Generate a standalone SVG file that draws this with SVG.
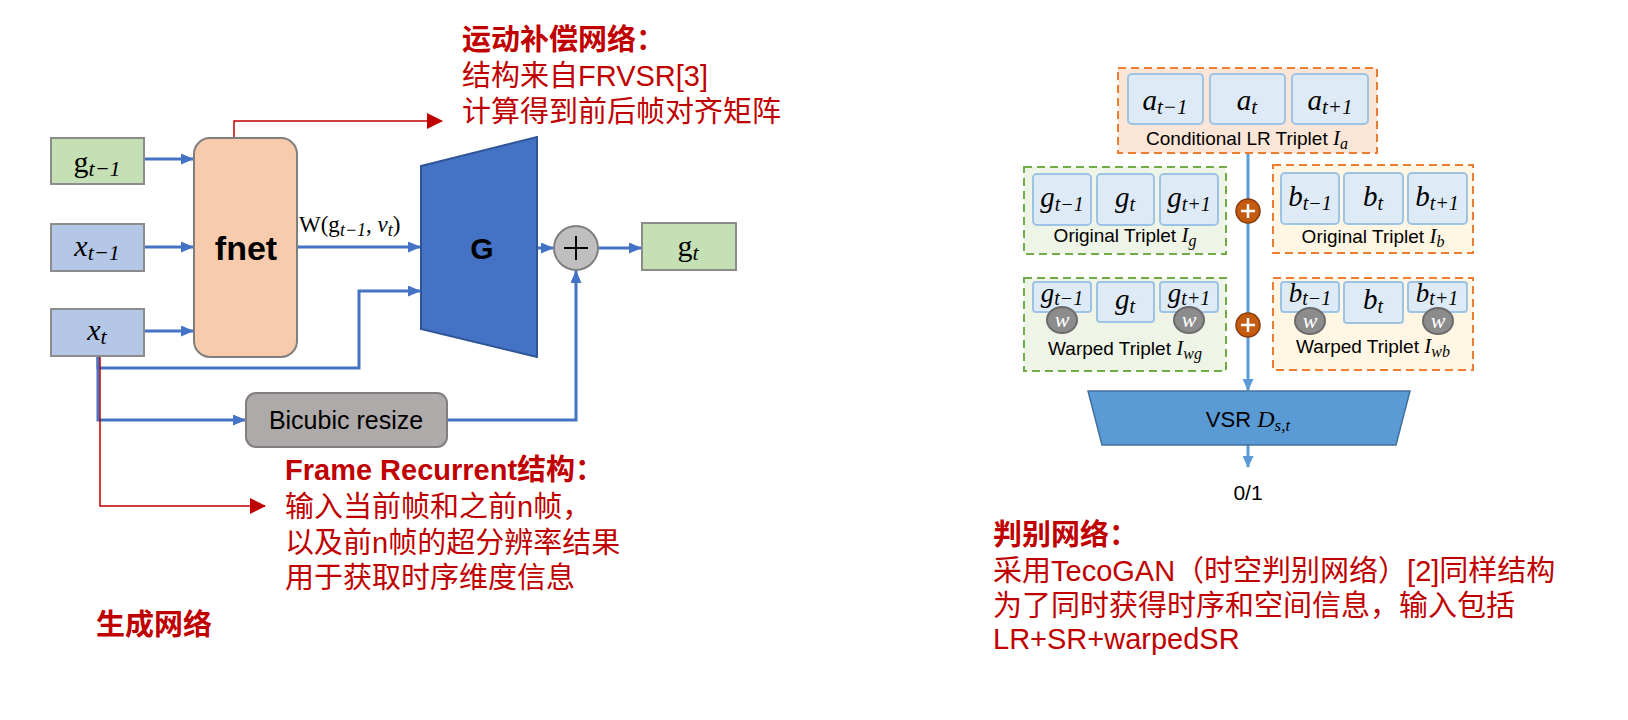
<svg xmlns="http://www.w3.org/2000/svg" width="1628" height="720" viewBox="0 0 1628 720">
<style>
.box{stroke:#8c8c8c;stroke-width:2}
.g{fill:#c5e0b4}
.x{fill:#b4c7e7}
.conn{fill:none;stroke:#4472c4;stroke-width:3}
.red{fill:none;stroke:#c00000;stroke-width:1.5}
.rconn{fill:none;stroke:#5b9bd5;stroke-width:3}
.math{font-family:"Liberation Serif","DejaVu Serif",serif;fill:#000}
.it{font-style:italic}
.sans{font-family:"Liberation Sans",Arial,sans-serif;fill:#000}
.cn{font-family:"Liberation Sans","Noto Sans CJK SC",sans-serif;fill:#c00000;font-size:29px}
.cnb{font-weight:700}
.inner{fill:#deebf7;stroke:#9dc3e6;stroke-width:2}
.dash-o{stroke:#ed7d31;stroke-width:2;stroke-dasharray:8 5}
.dash-g{stroke:#70ad47;stroke-width:2;stroke-dasharray:8 5}
.lbl{font-family:"Liberation Sans",Arial,sans-serif;font-size:19px;fill:#000}
.wc{fill:#8c8c8c;stroke:#6b6b6b;stroke-width:2}
.wt{font-family:"Liberation Serif",serif;font-style:italic;font-size:22px;fill:#fff}
.op{fill:#c55a11;stroke:#843c0c;stroke-width:1.5}
</style>
<defs>
<marker id="ab" markerUnits="userSpaceOnUse" markerWidth="13" markerHeight="11" refX="12" refY="5.5" orient="auto"><path d="M0,0 L13,5.5 L0,11 Z" fill="#4472c4"/></marker>
<marker id="ar" markerUnits="userSpaceOnUse" markerWidth="16" markerHeight="16" refX="15" refY="8" orient="auto"><path d="M0,0 L16,8 L0,16 Z" fill="#c00000"/></marker>
<marker id="alb" markerUnits="userSpaceOnUse" markerWidth="12" markerHeight="11" refX="11" refY="5.5" orient="auto"><path d="M0,0 L12,5.5 L0,11 Z" fill="#5b9bd5"/></marker>
</defs>

<g id="connectors">
<path class="conn" d="M144,159 H193" marker-end="url(#ab)"/>
<path class="conn" d="M144,247 H193" marker-end="url(#ab)"/>
<path class="conn" d="M144,331 H193" marker-end="url(#ab)"/>
<path class="conn" d="M297,247 H420" marker-end="url(#ab)"/>
<path class="conn" d="M98,356 V368 H359 V291 H420" marker-end="url(#ab)"/>
<path class="conn" d="M98,356 V420 H245" marker-end="url(#ab)"/>
<path class="conn" d="M537,248 H553" marker-end="url(#ab)"/>
<path class="conn" d="M598,248 H641" marker-end="url(#ab)"/>
<path class="conn" d="M447,420 H576 V271" marker-end="url(#ab)"/>
<path class="red" d="M234,138 V121 H442" marker-end="url(#ar)"/>
<path class="red" d="M100,356 V506 H265" marker-end="url(#ar)"/>
<path class="rconn" d="M1248,153 V390" marker-end="url(#alb)"/>
<path class="rconn" d="M1248,445 V467" marker-end="url(#alb)"/>
</g>

<g id="g_prev">
<rect class="box g" x="51" y="138" width="93" height="46"/>
<text class="math" x="97" y="172" text-anchor="middle" font-size="30">g<tspan class="it" font-size="22" dy="4">t−1</tspan></text>
</g>
<g id="x_prev">
<rect class="box x" x="51" y="224" width="93" height="47"/>
<text class="math" x="97" y="256" text-anchor="middle" font-size="30"><tspan class="it">x</tspan><tspan class="it" font-size="22" dy="4">t−1</tspan></text>
</g>
<g id="x_t">
<rect class="box x" x="51" y="309" width="93" height="47"/>
<text class="math" x="97" y="340" text-anchor="middle" font-size="30"><tspan class="it">x</tspan><tspan class="it" font-size="22" dy="4">t</tspan></text>
</g>
<g id="fnet">
<rect x="194" y="138" width="103" height="219" rx="16" fill="#f8cbad" stroke="#7f7f7f" stroke-width="2"/>
<text class="sans" x="246" y="260" text-anchor="middle" font-size="34" font-weight="700">fnet</text>
</g>
<g id="w_label">
<text class="math" x="299" y="232" font-size="23">W(g<tspan class="it" font-size="18" dy="4">t−1</tspan><tspan dy="-4">, </tspan><tspan class="it">v</tspan><tspan class="it" font-size="18" dy="4">t</tspan><tspan dy="-4">)</tspan></text>
</g>
<g id="G">
<polygon points="421,166 537,137 537,357 421,329" fill="#4472c4" stroke="#2f5597" stroke-width="2"/>
<text class="sans" x="482" y="259" text-anchor="middle" font-size="30" font-weight="700">G</text>
</g>
<g id="plus">
<circle cx="576" cy="248" r="22" fill="#bfbfbf" stroke="#7f7f7f" stroke-width="2"/>
<path d="M564,248 H588 M576,236 V260" stroke="#000" stroke-width="2"/>
</g>
<g id="g_t">
<rect class="box g" x="642" y="223" width="94" height="47"/>
<text class="math" x="688" y="256" text-anchor="middle" font-size="30">g<tspan class="it" font-size="22" dy="4">t</tspan></text>
</g>
<g id="bicubic">
<rect x="246" y="393" width="201" height="54" rx="10" fill="#aeaaaa" stroke="#7f7f7f" stroke-width="2"/>
<text class="sans" x="346" y="429" text-anchor="middle" font-size="25" fill="#1a1a1a">Bicubic resize</text>
</g>

<g id="note_motion">
<text class="cn cnb" x="462" y="50">运动补偿网络：</text>
<text class="cn" x="462" y="86">结构来自FRVSR[3]</text>
<text class="cn" x="462" y="122">计算得到前后帧对齐矩阵</text>
</g>
<g id="note_recurrent">
<text class="cn cnb" x="285" y="480">Frame Recurrent结构：</text>
<text class="cn" x="285" y="517">输入当前帧和之前n帧，</text>
<text class="cn" x="285" y="553">以及前n帧的超分辨率结果</text>
<text class="cn" x="285" y="588">用于获取时序维度信息</text>
</g>
<g id="note_gen">
<text class="cn cnb" x="96" y="635">生成网络</text>
</g>
<g id="note_disc">
<text class="cn cnb" x="993" y="545">判别网络：</text>
<text class="cn" x="993" y="581">采用TecoGAN（时空判别网络）[2]同样结构</text>
<text class="cn" x="993" y="616">为了同时获得时序和空间信息，输入包括</text>
<text class="cn" x="993" y="649">LR+SR+warpedSR</text>
</g>

<g id="triplet_a">
<rect class="dash-o" x="1118" y="68" width="259" height="85" fill="#fbe5d6"/>
<rect class="inner" x="1128" y="74" width="75" height="50" rx="4"/>
<rect class="inner" x="1210" y="74" width="75" height="50" rx="4"/>
<rect class="inner" x="1292" y="74" width="76" height="50" rx="4"/>
<text class="math it" x="1165" y="110" text-anchor="middle" font-size="29">a<tspan font-size="21" dy="4">t−1</tspan></text>
<text class="math it" x="1247" y="110" text-anchor="middle" font-size="29">a<tspan font-size="21" dy="4">t</tspan></text>
<text class="math it" x="1330" y="110" text-anchor="middle" font-size="29">a<tspan font-size="21" dy="4">t+1</tspan></text>
<text class="lbl" x="1247" y="145" text-anchor="middle">Conditional LR Triplet <tspan class="math it" font-size="21">I</tspan><tspan class="math it" font-size="16" dy="4">a</tspan></text>
</g>
<g id="triplet_g">
<rect class="dash-g" x="1024" y="167" width="202" height="87" fill="#eef4e6"/>
<rect class="inner" x="1033" y="174" width="58" height="51" rx="4"/>
<rect class="inner" x="1097" y="174" width="57" height="51" rx="4"/>
<rect class="inner" x="1160" y="174" width="58" height="51" rx="4"/>
<text class="math it" x="1062" y="207" text-anchor="middle" font-size="29">g<tspan font-size="20" dy="4">t−1</tspan></text>
<text class="math it" x="1125" y="207" text-anchor="middle" font-size="29">g<tspan font-size="20" dy="4">t</tspan></text>
<text class="math it" x="1189" y="207" text-anchor="middle" font-size="29">g<tspan font-size="20" dy="4">t+1</tspan></text>
<text class="lbl" x="1125" y="242" text-anchor="middle">Original Triplet <tspan class="math it" font-size="21">I</tspan><tspan class="math it" font-size="16" dy="4">g</tspan></text>
</g>
<g id="triplet_b">
<rect class="dash-o" x="1273" y="165" width="200" height="88" fill="#fff6e3"/>
<rect class="inner" x="1281" y="173" width="58" height="51" rx="4"/>
<rect class="inner" x="1344" y="173" width="59" height="51" rx="4"/>
<rect class="inner" x="1408" y="173" width="59" height="51" rx="4"/>
<text class="math it" x="1310" y="206" text-anchor="middle" font-size="29">b<tspan font-size="20" dy="4">t−1</tspan></text>
<text class="math it" x="1373" y="206" text-anchor="middle" font-size="29">b<tspan font-size="20" dy="4">t</tspan></text>
<text class="math it" x="1437" y="206" text-anchor="middle" font-size="29">b<tspan font-size="20" dy="4">t+1</tspan></text>
<text class="lbl" x="1373" y="243" text-anchor="middle">Original Triplet <tspan class="math it" font-size="21">I</tspan><tspan class="math it" font-size="16" dy="4">b</tspan></text>
</g>
<g id="triplet_wg">
<rect class="dash-g" x="1024" y="278" width="202" height="93" fill="#eef4e6"/>
<rect class="inner" x="1033" y="282" width="58" height="30" rx="3"/>
<rect class="inner" x="1097" y="282" width="57" height="40" rx="3"/>
<rect class="inner" x="1160" y="282" width="58" height="30" rx="3"/>
<text class="math it" x="1062" y="302" text-anchor="middle" font-size="27">g<tspan font-size="20" dy="3">t−1</tspan></text>
<text class="math it" x="1125" y="309" text-anchor="middle" font-size="29">g<tspan font-size="20" dy="4">t</tspan></text>
<text class="math it" x="1189" y="302" text-anchor="middle" font-size="27">g<tspan font-size="20" dy="3">t+1</tspan></text>
<ellipse class="wc" cx="1062" cy="320" rx="15" ry="13"/>
<text class="wt" x="1062" y="327" text-anchor="middle">w</text>
<ellipse class="wc" cx="1189" cy="320" rx="15" ry="13"/>
<text class="wt" x="1189" y="327" text-anchor="middle">w</text>
<text class="lbl" x="1125" y="355" text-anchor="middle">Warped Triplet <tspan class="math it" font-size="21">I</tspan><tspan class="math it" font-size="16" dy="4">wg</tspan></text>
</g>
<g id="triplet_wb">
<rect class="dash-o" x="1273" y="278" width="200" height="92" fill="#fff6e3"/>
<rect class="inner" x="1281" y="282" width="58" height="30" rx="3"/>
<rect class="inner" x="1344" y="282" width="59" height="41" rx="3"/>
<rect class="inner" x="1408" y="282" width="59" height="30" rx="3"/>
<text class="math it" x="1310" y="302" text-anchor="middle" font-size="27">b<tspan font-size="20" dy="3">t−1</tspan></text>
<text class="math it" x="1373" y="309" text-anchor="middle" font-size="29">b<tspan font-size="20" dy="4">t</tspan></text>
<text class="math it" x="1437" y="302" text-anchor="middle" font-size="27">b<tspan font-size="20" dy="3">t+1</tspan></text>
<ellipse class="wc" cx="1310" cy="321" rx="15" ry="13"/>
<text class="wt" x="1310" y="328" text-anchor="middle">w</text>
<ellipse class="wc" cx="1438" cy="321" rx="15" ry="13"/>
<text class="wt" x="1438" y="328" text-anchor="middle">w</text>
<text class="lbl" x="1373" y="353" text-anchor="middle">Warped Triplet <tspan class="math it" font-size="21">I</tspan><tspan class="math it" font-size="16" dy="4">wb</tspan></text>
</g>
<g id="op1">
<circle class="op" cx="1248" cy="211" r="12"/>
<path d="M1241,211 H1255 M1248,204 V218" stroke="#fff" stroke-width="2.5"/>
</g>
<g id="op2">
<circle class="op" cx="1248" cy="325" r="12"/>
<path d="M1241,325 H1255 M1248,318 V332" stroke="#fff" stroke-width="2.5"/>
</g>
<g id="vsr">
<polygon points="1088,391 1410,391 1396,445 1102,445" fill="#5b9bd5" stroke="#41719c" stroke-width="1.5"/>
<text class="sans" x="1248" y="427" text-anchor="middle" font-size="22">VSR <tspan class="math it" font-size="24">D</tspan><tspan class="math it" font-size="17" dy="4">s,t</tspan></text>
</g>
<g id="out">
<text class="sans" x="1248" y="500" text-anchor="middle" font-size="21">0/1</text>
</g>
</svg>
